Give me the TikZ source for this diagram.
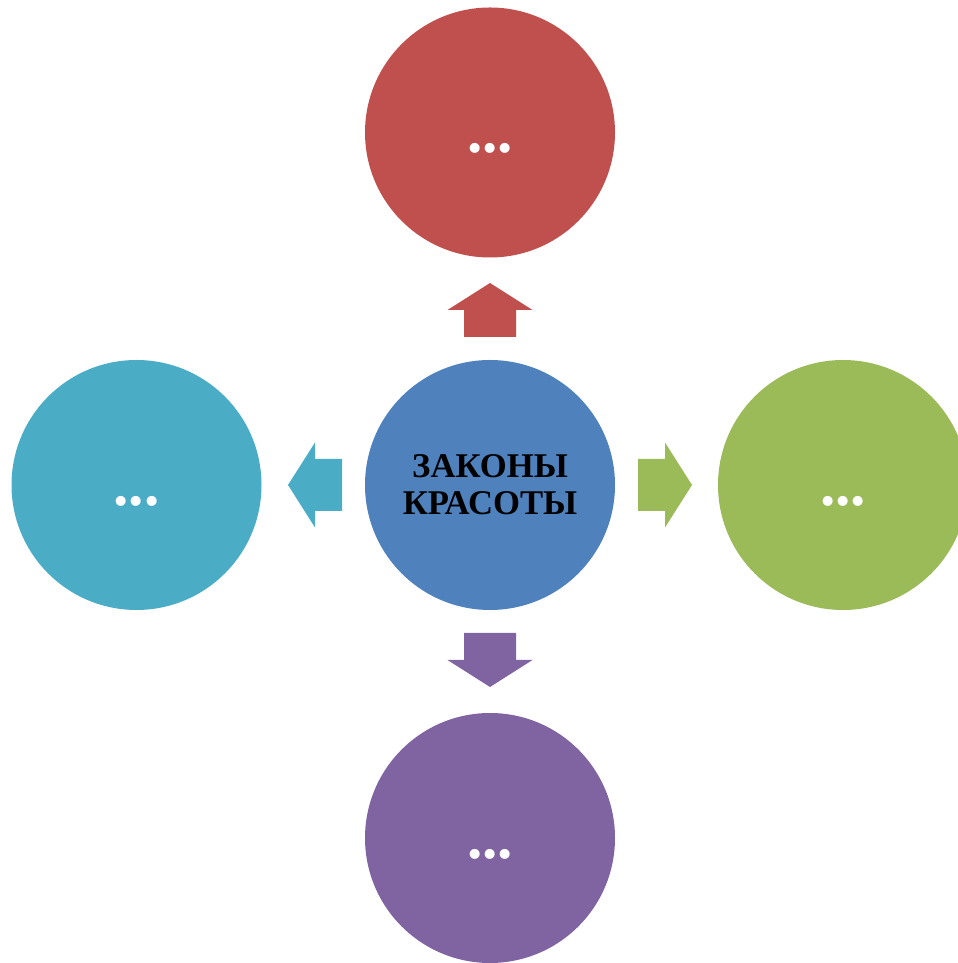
\documentclass[tikz,border=0pt]{standalone}
\usepackage{fontspec}
\setmainfont{Liberation Serif}
\definecolor{krasnyj}{HTML}{C0504D}
\definecolor{sinij}{HTML}{4F81BD}
\definecolor{zelenyj}{HTML}{9BBB59}
\definecolor{fiolet}{HTML}{8064A2}
\definecolor{goluboj}{HTML}{4BACC6}
\tikzset{
  krug/.style={circle, minimum size=187.5pt, inner sep=0pt, fill=#1},
  tochki/.style={text=white, font=\bfseries\fontsize{46}{50}\selectfont, text height=30.75pt, text depth=0pt}
}
\begin{document}
\begin{tikzpicture}[x=0.75pt, y=0.75pt]
  \useasboundingbox (0,0) rectangle (957,963);
  \node[krug=sinij, align=center, font=\bfseries\fontsize{26}{27.75}\selectfont] (zakony) at (490,478) {ЗАКОНЫ\\КРАСОТЫ};
  \node[krug=krasnyj, tochki] (verh) at (490,830.5) {...};
  \node[krug=fiolet, tochki]  (niz)  at (490,125) {...};
  \node[krug=goluboj, tochki] (levo) at (136.5,478) {...};
  \node[krug=zelenyj, tochki] (pravo) at (843,478) {...};
  % strelki
  \foreach \ugol/\cvet in {90/krasnyj, 180/goluboj, 0/zelenyj, 270/fiolet}
    \fill[\cvet, shift={(zakony.center)}, rotate=\ugol]
      (148,-26) -- (175,-26) -- (175,-42.5) -- (202,0) -- (175,42.5) -- (175,26) -- (148,26) -- cycle;
\end{tikzpicture}
\end{document}
